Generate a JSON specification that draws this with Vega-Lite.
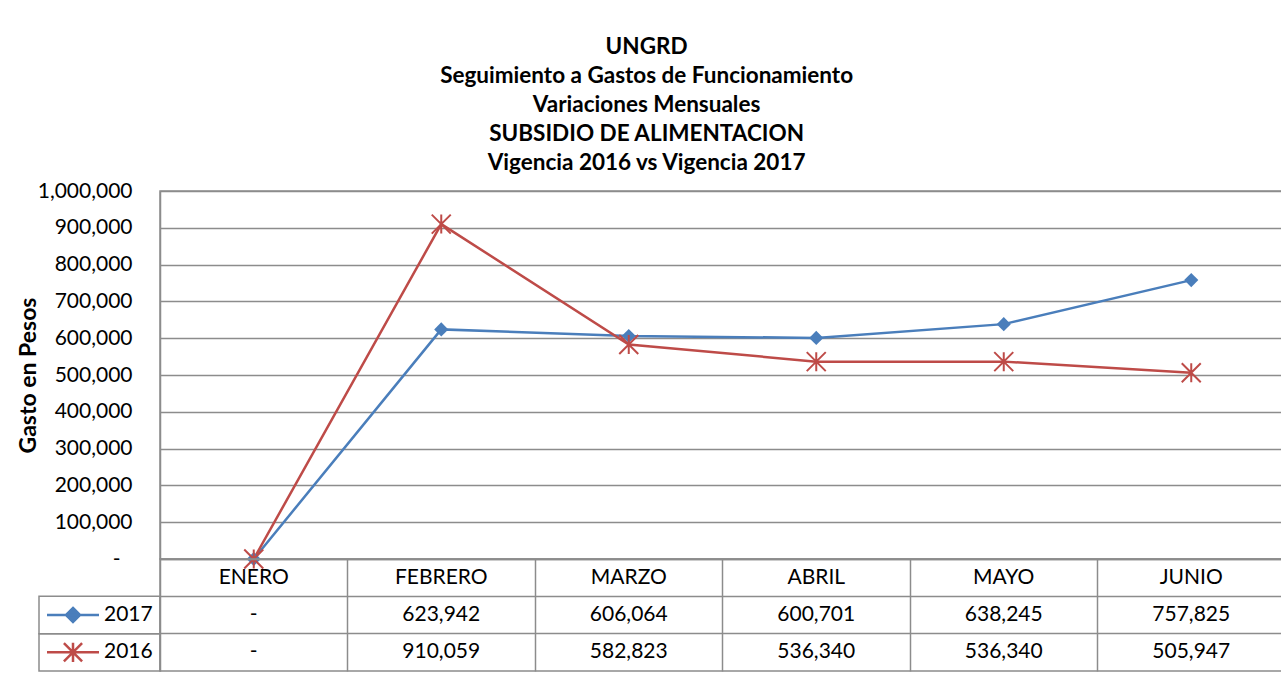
{
  "$schema": "https://vega.github.io/schema/vega-lite/v6.json",
  "background": "white",
  "padding": {"left": 16, "top": 35, "right": 0, "bottom": 5},
  "config": {
    "font": "Lato",
    "view": {"stroke": "#8c8c8c", "strokeWidth": 1.5},
    "axis": {"labelFont": "Lato", "titleFont": "Lato", "labelColor": "black", "titleColor": "black", "gridColor": "#8c8c8c", "domainColor": "#8c8c8c", "gridOpacity": 1},
    "text": {"font": "Lato", "fontSize": 21, "color": "black"}
  },
  "title": {
    "text": ["UNGRD", "Seguimiento a Gastos de Funcionamiento", "Variaciones Mensuales", "SUBSIDIO DE ALIMENTACION", "Vigencia 2016 vs Vigencia 2017"],
    "fontSize": 22.5, "fontWeight": "bold", "lineHeight": 29, "anchor": "middle", "dx": -4.5, "offset": 5, "color": "black", "font": "Lato"
  },
  "datasets": {
    "gastos": [
      {"month": "ENERO", "year": "2017", "value": 0},
      {"month": "FEBRERO", "year": "2017", "value": 623942},
      {"month": "MARZO", "year": "2017", "value": 606064},
      {"month": "ABRIL", "year": "2017", "value": 600701},
      {"month": "MAYO", "year": "2017", "value": 638245},
      {"month": "JUNIO", "year": "2017", "value": 757825},
      {"month": "ENERO", "year": "2016", "value": 0},
      {"month": "FEBRERO", "year": "2016", "value": 910059},
      {"month": "MARZO", "year": "2016", "value": 582823},
      {"month": "ABRIL", "year": "2016", "value": 536340},
      {"month": "MAYO", "year": "2016", "value": 536340},
      {"month": "JUNIO", "year": "2016", "value": 505947}
    ],
    "meses": [
      {"month": "ENERO"}, {"month": "FEBRERO"}, {"month": "MARZO"}, {"month": "ABRIL"}, {"month": "MAYO"}, {"month": "JUNIO"}
    ],
    "series": [{"year": "2017"}, {"year": "2016"}]
  },
  "spacing": 0,
  "bounds": "flush",
  "columns": 2,
  "concat": [
    {
      "width": 121, "height": 368,
      "view": {"stroke": null},
      "data": {"name": "series"},
      "mark": {"type": "text", "text": ""},
      "encoding": {}
    },
    {
      "width": 1125, "height": 368,
      "data": {"name": "gastos"},
      "encoding": {
        "x": {"field": "month", "type": "ordinal", "sort": ["ENERO", "FEBRERO", "MARZO", "ABRIL", "MAYO", "JUNIO"], "axis": null},
        "y": {"field": "value", "type": "quantitative", "scale": {"domain": [0, 1000000], "nice": false},
              "axis": {"values": [0, 100000, 200000, 300000, 400000, 500000, 600000, 700000, 800000, 900000, 1000000],
                       "labelExpr": "datum.value === 0 ? '-' : format(datum.value, ',')",
                       "labelPadding": {"condition": {"test": "datum.value === 0", "value": 40}, "value": 28},
                       "title": "Gasto en Pesos", "titleFontSize": 23, "titleFontWeight": "bold", "titlePadding": -3,
                       "labelFontSize": 21, "ticks": false, "grid": true, "gridWidth": 1.5, "domainWidth": 1.5}}
      },
      "layer": [
        {
          "mark": {"type": "line", "strokeWidth": 2.5},
          "encoding": {"color": {"field": "year", "type": "nominal", "scale": {"domain": ["2017", "2016"], "range": ["#4A7EBB", "#BE4B48"]}, "legend": null}}
        },
        {
          "transform": [{"filter": "datum.year === '2017'"}],
          "mark": {"type": "point", "shape": "diamond", "filled": true, "size": 200, "color": "#4A7EBB", "opacity": 1}
        },
        {
          "transform": [{"filter": "datum.year === '2016'"}],
          "mark": {"type": "point", "shape": "M-1,-1L1,1M-1,1L1,-1M0,-1L0,1", "filled": false, "size": 361, "strokeWidth": 2, "color": "#BE4B48", "opacity": 1}
        }
      ]
    },
    {
      "width": 121, "height": 112,
      "view": {"stroke": null},
      "data": {"name": "series"},
      "encoding": {
        "y": {"field": "year", "type": "nominal", "scale": {"type": "band", "domain": ["header", "2017", "2016"], "paddingInner": 0, "paddingOuter": 0}, "axis": null}
      },
      "layer": [
        {
          "mark": {"type": "rect", "fill": null, "fillOpacity": 0, "stroke": "#8c8c8c", "strokeWidth": 1.5}
        },
        {
          "transform": [{"filter": "datum.year === '2017'"}],
          "mark": {"type": "point", "shape": "M-1,0L1,0M0,-0.27L0.27,0L0,0.27L-0.27,0Z", "filled": true, "size": 2704, "xOffset": -26.5, "strokeWidth": 2.5, "color": "#4A7EBB", "stroke": "#4A7EBB", "opacity": 1}
        },
        {
          "transform": [{"filter": "datum.year === '2016'"}],
          "mark": {"type": "point", "shape": "M-1,0L1,0M-0.35,-0.35L0.35,0.35M-0.35,0.35L0.35,-0.35M0,-0.37L0,0.37", "filled": false, "size": 2704, "xOffset": -26.5, "strokeWidth": 2.5, "color": "#BE4B48", "opacity": 1}
        },
        {
          "mark": {"type": "text", "align": "left", "dx": 4.5},
          "encoding": {"text": {"field": "year", "type": "nominal"}}
        }
      ]
    },
    {
      "width": 1125, "height": 112,
      "layer": [
        {
          "data": {"name": "meses"},
          "mark": {"type": "text"},
          "encoding": {
            "x": {"field": "month", "type": "ordinal", "sort": ["ENERO", "FEBRERO", "MARZO", "ABRIL", "MAYO", "JUNIO"], "scale": {"type": "band", "paddingInner": 0, "paddingOuter": 0},
                  "axis": {"grid": true, "bandPosition": 0, "labels": false, "ticks": false, "domain": false, "title": null, "gridWidth": 1.5}},
            "y": {"datum": "header", "type": "nominal", "scale": {"type": "band", "domain": ["header", "2017", "2016"], "paddingInner": 0, "paddingOuter": 0},
                  "axis": {"grid": true, "bandPosition": 0, "labels": false, "ticks": false, "domain": false, "title": null, "gridWidth": 1.5}},
            "text": {"field": "month", "type": "nominal"}
          }
        },
        {
          "data": {"name": "gastos"},
          "mark": {"type": "text"},
          "encoding": {
            "x": {"field": "month", "type": "ordinal", "sort": ["ENERO", "FEBRERO", "MARZO", "ABRIL", "MAYO", "JUNIO"]},
            "y": {"field": "year", "type": "nominal"},
            "text": {"condition": {"test": "datum.value === 0", "value": "-"}, "field": "value", "type": "quantitative", "format": ","}
          }
        }
      ]
    }
  ]
}
